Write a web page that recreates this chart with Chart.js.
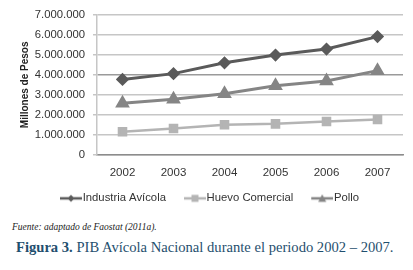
<!DOCTYPE html>
<html>
<head>
<meta charset="utf-8">
<script src="https://cdn.jsdelivr.net/npm/chart.js@4/dist/chart.umd.min.js"></script>
<style>
  body { margin: 0; background: #fff; width: 413px; height: 270px; overflow: hidden; }
  #wrap { position: relative; width: 413px; height: 214px; }
  .fuente { position: absolute; left: 12px; top: 222px; font: italic 9.5px "Liberation Serif", serif; color: #222; }
  .figura { position: absolute; left: 16px; top: 239px; font: 14.6px "Liberation Serif", serif; color: #1f4f6e; white-space: nowrap; }
  .figura b { font-weight: bold; }
</style>
</head>
<body>
<div id="wrap"><canvas id="c"></canvas></div>
<div class="fuente">Fuente: adaptado de Faostat (2011a).</div>
<div class="figura"><b>Figura 3.</b> PIB Avícola Nacional durante el periodo 2002 – 2007.</div>
<script>
// years on the x axis
const years = ['2002', '2003', '2004', '2005', '2006', '2007'];

// values in millions of pesos
const industriaAvicola = [3770000, 4060000, 4600000, 4990000, 5290000, 5910000];
const huevoComercial = [1160000, 1320000, 1510000, 1550000, 1670000, 1770000];
const pollo = [2580000, 2780000, 3060000, 3450000, 3690000, 4210000];

const seriesColors = ['#5a5a5a', '#b4b4b4', '#858585'];

// legend swatch: a short line with the marker in the middle,
// the blank strip on the left gives the gap between legend items
function legendSwatch(color, style) {
    const cv = document.createElement('canvas');
    cv.width = 43; cv.height = 12;
    const ctx = cv.getContext('2d');
    ctx.strokeStyle = color;
    ctx.fillStyle = color;
    ctx.lineWidth = 2.5;
    ctx.beginPath(); ctx.moveTo(21, 6); ctx.lineTo(43, 6); ctx.stroke();
    const cx = 32;
    ctx.beginPath();
    if (style === 'rectRot') {
        ctx.moveTo(cx, 2.5); ctx.lineTo(cx + 3.5, 6); ctx.lineTo(cx, 9.5); ctx.lineTo(cx - 3.5, 6);
    } else if (style === 'rect') {
        ctx.rect(cx - 3.5, 2.5, 7, 7);
    } else {
        ctx.moveTo(cx, 2); ctx.lineTo(cx + 4, 9.5); ctx.lineTo(cx - 4, 9.5);
    }
    ctx.closePath(); ctx.fill();
    return cv;
}

const swatches = [
    legendSwatch(seriesColors[0], 'rectRot'),
    legendSwatch(seriesColors[1], 'rect'),
    legendSwatch(seriesColors[2], 'triangle')
];

new Chart(document.getElementById('c'), {
    type: 'line',
    data: {
        labels: years,
        datasets: [
            { label: 'Industria Avícola', data: industriaAvicola, borderColor: seriesColors[0], backgroundColor: seriesColors[0],
              borderWidth: 3, pointStyle: 'rectRot', pointRadius: 4.5, tension: 0 },
            { label: 'Huevo Comercial', data: huevoComercial, borderColor: seriesColors[1], backgroundColor: seriesColors[1],
              borderWidth: 2.5, pointStyle: 'rect', pointRadius: 5, tension: 0 },
            { label: 'Pollo', data: pollo, borderColor: seriesColors[2], backgroundColor: seriesColors[2],
              borderWidth: 3, pointStyle: 'triangle', pointRadius: 5.5, tension: 0 }
        ]
    },
    options: {
        responsive: true,
        maintainAspectRatio: false,
        animation: false,
        layout: { padding: { top: 14, right: 10, left: 0, bottom: 0 } },
        plugins: {
            tooltip: { enabled: false },
            legend: {
                position: 'bottom',
                labels: {
                    usePointStyle: true,
                    pointStyleWidth: 33,
                    boxHeight: 12,
                    padding: 2,
                    color: '#333',
                    font: { family: 'Liberation Sans', size: 11.3 },
                    generateLabels(chart) {
                        return chart.data.datasets.map((ds, i) => ({
                            text: ds.label,
                            pointStyle: swatches[i],
                            fillStyle: ds.borderColor,
                            strokeStyle: ds.borderColor,
                            lineWidth: 0,
                            fontColor: '#333',
                            datasetIndex: i
                        }));
                    }
                }
            }
        },
        scales: {
            x: {
                offset: true,
                grid: { display: false, drawTicks: false },
                border: { color: '#8c8c8c', width: 1.5 },
                ticks: { padding: 11, color: '#333', font: { family: 'Liberation Sans', size: 11.5 } }
            },
            y: {
                min: 0,
                max: 7000000,
                afterFit(scale) { scale.width = 97; },
                grid: {
                    color: ctx => ctx.tick && ctx.tick.value === 4000000 ? '#9a9a9a' : '#c6c6c6',
                    lineWidth: 1.5,
                    tickLength: 4,
                    tickColor: '#c6c6c6'
                },
                border: { color: '#c6c6c6', width: 1.5 },
                title: { display: true, text: 'Millones de Pesos', color: '#222',
                         font: { family: 'Liberation Sans', size: 10, weight: 'bold' }, padding: { top: 19, bottom: 0 } },
                ticks: {
                    stepSize: 1000000,
                    padding: 8,
                    color: '#333',
                    font: { family: 'Liberation Sans', size: 11.3 },
                    callback: v => v === 0 ? '0' : v.toLocaleString('de-DE')
                }
            }
        }
    }
});
</script>
</body>
</html>
